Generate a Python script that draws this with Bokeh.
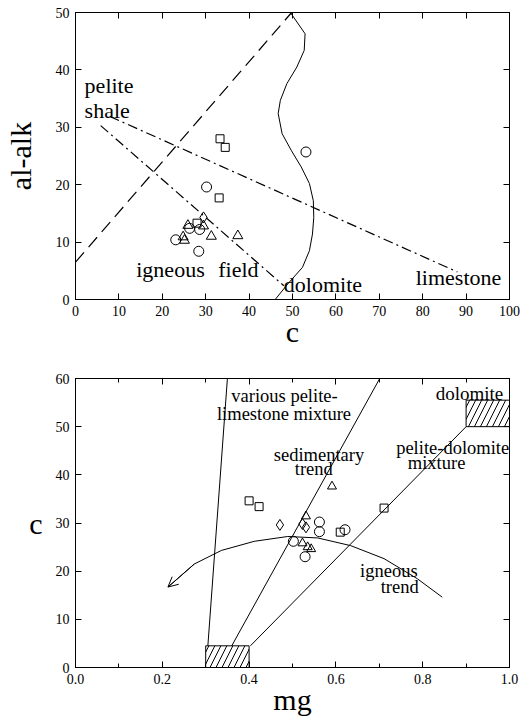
from bokeh.plotting import figure
from bokeh.models import (LinearAxis, FixedTicker, PrintfTickFormatter, Label,
                          Arrow, OpenHead, Range1d, CustomJSTickFormatter)
from bokeh.layouts import column
from bokeh.embed import file_html
from bokeh.resources import INLINE

SERIF = "Liberation Serif"

# ---------------- upper diagram: c versus al-alk ----------------
c_ticks = [0, 10, 20, 30, 40, 50, 60, 70, 80, 90, 100]
alalk_ticks = [0, 10, 20, 30, 40, 50]

sq_c = [33.3, 34.5, 33.1, 28.0]
sq_alalk = [28.0, 26.5, 17.7, 13.3]
ci_c = [53.1, 30.2, 23.1, 28.4, 26.3, 28.6]
ci_alalk = [25.7, 19.6, 10.4, 8.4, 12.4, 12.2]
tr_c = [25.9, 24.8, 25.1, 31.3, 37.4, 29.5]
tr_alalk = [12.9, 10.9, 10.3, 11.0, 11.1, 12.8]
di_c = [29.5]
di_alalk = [14.3]

# igneous field limit (dashed)
ign_c = [0.0, 49.8]
ign_alalk = [6.5, 50.0]
# pelite/shale -> limestone mixing line (dash-dot)
lime_c = [7.9, 88.0]
lime_alalk = [31.9, 4.8]
# pelite/shale -> dolomite mixing line (dash-dot)
dolo_c = [5.8, 48.0]
dolo_alalk = [30.3, 2.4]
# dolomite boundary curve
bnd_c = [49.5, 52.9, 52.7, 51.0, 48.7, 47.2, 46.7, 47.6, 49.7, 52.0,
         53.9, 54.8, 54.9, 54.6, 53.9, 52.3, 48.9, 45.8, 44.3]
bnd_alalk = [50.0, 46.3, 43.4, 40.5, 37.6, 34.7, 32.4, 28.9, 26.0, 23.1,
             20.2, 17.2, 14.3, 11.4, 8.5, 5.6, 2.7, -0.2, -1.0]

# ---------------- lower diagram: mg versus c ----------------
mg_major = [0.0, 0.2, 0.4, 0.6, 0.8, 1.0]
mg_minor = [0.1, 0.3, 0.5, 0.7, 0.9]
c2_ticks = [0, 10, 20, 30, 40, 50, 60]

sq_mg = [0.400, 0.423, 0.711, 0.610]
sq_c2 = [34.6, 33.4, 33.1, 28.1]
tr_mg = [0.591, 0.531, 0.523, 0.535, 0.543]
tr_c2 = [37.6, 31.4, 25.8, 25.0, 24.6]
di_mg = [0.471, 0.523, 0.531]
di_c2 = [29.6, 29.8, 29.1]
ci_mg = [0.562, 0.562, 0.621, 0.502, 0.529]
ci_c2 = [30.2, 28.2, 28.6, 26.2, 23.0]

# mixing lines
plm_mg = [0.305, 0.350]
plm_c = [4.5, 60.0]
sed_mg = [0.360, 0.701]
sed_c = [4.5, 60.0]
pdm_mg = [0.403, 0.900]
pdm_c = [4.5, 50.0]
# igneous trend (ends in an arrow)
igt_mg = [0.845, 0.788, 0.711, 0.634, 0.558, 0.489, 0.412, 0.336, 0.274, 0.213]
igt_c = [14.6, 18.4, 22.6, 25.3, 26.9, 27.2, 26.2, 24.3, 21.5, 16.7]
# end-member boxes: pelite and dolomite
box_left = [0.3, 0.9]
box_right = [0.4, 1.0]
box_bottom = [0.0, 50.0]
box_top = [4.5, 55.5]

BLANK = CustomJSTickFormatter(code="return ''")


def style_axis(ax, ticker, labels=True, title_standoff=-4):
    ax.ticker = ticker
    ax.axis_line_color = "black"
    ax.axis_line_width = 1
    ax.major_tick_line_color = "black"
    ax.minor_tick_line_color = "black"
    ax.major_tick_in = 6
    ax.major_tick_out = 0
    ax.minor_tick_in = 4
    ax.minor_tick_out = 0
    ax.major_label_text_font = SERIF
    ax.major_label_text_color = "black"
    ax.axis_label_text_font = SERIF
    ax.axis_label_text_font_style = "normal"
    ax.axis_label_text_color = "black"
    ax.axis_label_text_font_size = "30px"
    ax.axis_label_standoff = title_standoff
    if labels:
        ax.major_label_text_font_size = "14px"
        ax.major_label_standoff = 6
    else:
        # frame ticks only
        ax.formatter = BLANK
        ax.major_label_text_font_size = "1px"
        ax.major_label_standoff = 0


def frame_axes(p, xt, yt):
    top = LinearAxis()
    right = LinearAxis()
    style_axis(top, xt, labels=False)
    style_axis(right, yt, labels=False)
    p.add_layout(top, "above")
    p.add_layout(right, "right")


def base_figure(xr, yr, height, top, bottom, xlabel, ylabel):
    p = figure(width=522, height=height, x_range=xr, y_range=yr,
               output_backend="svg", toolbar_location=None,
               min_border_left=74, min_border_right=13,
               min_border_top=top, min_border_bottom=bottom,
               x_axis_label=xlabel, y_axis_label=ylabel)
    p.grid.grid_line_color = None
    p.outline_line_color = "black"
    p.outline_line_width = 1
    p.background_fill_color = "white"
    p.border_fill_color = "white"
    return p


def open_marks(p, x, y, marker, size):
    p.scatter(x, y, marker=marker, size=size, fill_color=None,
              line_color="black", line_width=1)


def note(p, x, y, text, size, align="left"):
    p.add_layout(Label(x=x, y=y, text=text, text_font=SERIF,
                       text_font_size=size, text_color="black",
                       text_align=align, text_baseline="alphabetic"))


# ---- upper figure
p1 = base_figure(Range1d(0, 100), Range1d(0, 50), 359, 12, 60, "c", "al-alk")
style_axis(p1.xaxis[0], FixedTicker(ticks=c_ticks, minor_ticks=[]))
style_axis(p1.yaxis[0], FixedTicker(ticks=alalk_ticks, minor_ticks=[]),
           title_standoff=16)
frame_axes(p1, FixedTicker(ticks=c_ticks, minor_ticks=[]),
           FixedTicker(ticks=alalk_ticks, minor_ticks=[]))

p1.line(ign_c, ign_alalk, line_color="black", line_width=1.2, line_dash="13 7")
p1.line(lime_c, lime_alalk, line_color="black", line_width=1.2, line_dash="10 4 2 4")
p1.line(dolo_c, dolo_alalk, line_color="black", line_width=1.2, line_dash="10 4 2 4")
p1.line(bnd_c, bnd_alalk, line_color="black", line_width=1)

open_marks(p1, sq_c, sq_alalk, "square", 8)
open_marks(p1, ci_c, ci_alalk, "circle", 10)
open_marks(p1, tr_c, tr_alalk, "triangle", 10)
open_marks(p1, di_c, di_alalk, "diamond", 11)

note(p1, 2.1, 37.3, "pelite", "22px")
note(p1, 2.1, 33.0, "shale", "22px")
note(p1, 14.0, 5.2, "igneous", "22px")
note(p1, 32.9, 5.2, "field", "22px")
note(p1, 48.0, 2.6, "dolomite", "22px")
note(p1, 78.4, 3.8, "limestone", "22px")

# ---- lower figure
p2 = base_figure(Range1d(0, 1), Range1d(0, 60), 359, 19, 51, "mg", "c")
style_axis(p2.xaxis[0], FixedTicker(ticks=mg_major, minor_ticks=mg_minor))
p2.xaxis[0].formatter = PrintfTickFormatter(format="%.1f")
style_axis(p2.yaxis[0], FixedTicker(ticks=c2_ticks, minor_ticks=[]),
           title_standoff=10)
yax = p2.yaxis[0]
if "axis_label_orientation" in yax.properties():
    yax.axis_label_orientation = "horizontal"
frame_axes(p2, FixedTicker(ticks=mg_major, minor_ticks=mg_minor),
           FixedTicker(ticks=c2_ticks, minor_ticks=[]))

p2.quad(left=box_left, right=box_right, bottom=box_bottom, top=box_top,
        fill_color=None, line_color="black", line_width=1,
        hatch_pattern="/", hatch_color="black", hatch_scale=12, hatch_weight=1)
p2.line(plm_mg, plm_c, line_color="black", line_width=1)
p2.line(sed_mg, sed_c, line_color="black", line_width=1)
p2.line(pdm_mg, pdm_c, line_color="black", line_width=1)
p2.line(igt_mg, igt_c, line_color="black", line_width=1)
p2.add_layout(Arrow(end=OpenHead(size=10, line_width=1, line_color="black"),
                    x_start=igt_mg[-2], y_start=igt_c[-2],
                    x_end=igt_mg[-1], y_end=igt_c[-1],
                    line_color="black", line_width=1))

open_marks(p2, sq_mg, sq_c2, "square", 8)
open_marks(p2, ci_mg, ci_c2, "circle", 10)
open_marks(p2, tr_mg, tr_c2, "triangle", 9)
open_marks(p2, di_mg, di_c2, "diamond", 11)

note(p2, 0.359, 56.3, "various pelite-", "18.5px")
note(p2, 0.326, 52.7, "limestone mixture", "18.5px")
note(p2, 0.830, 56.8, "dolomite", "19px")
note(p2, 0.561, 44.2, "sedimentary", "18.5px", "center")
note(p2, 0.549, 41.2, "trend", "18.5px", "center")
note(p2, 0.869, 45.6, "pelite-dolomite", "18.5px", "center")
note(p2, 0.832, 42.4, "mixture", "18.5px", "center")
note(p2, 0.722, 20.0, "igneous", "18.5px", "center")
note(p2, 0.747, 16.8, "trend", "18.5px", "center")

layout = column(p1, p2, spacing=0)
open("out.html", "w").write(file_html(layout, INLINE))
